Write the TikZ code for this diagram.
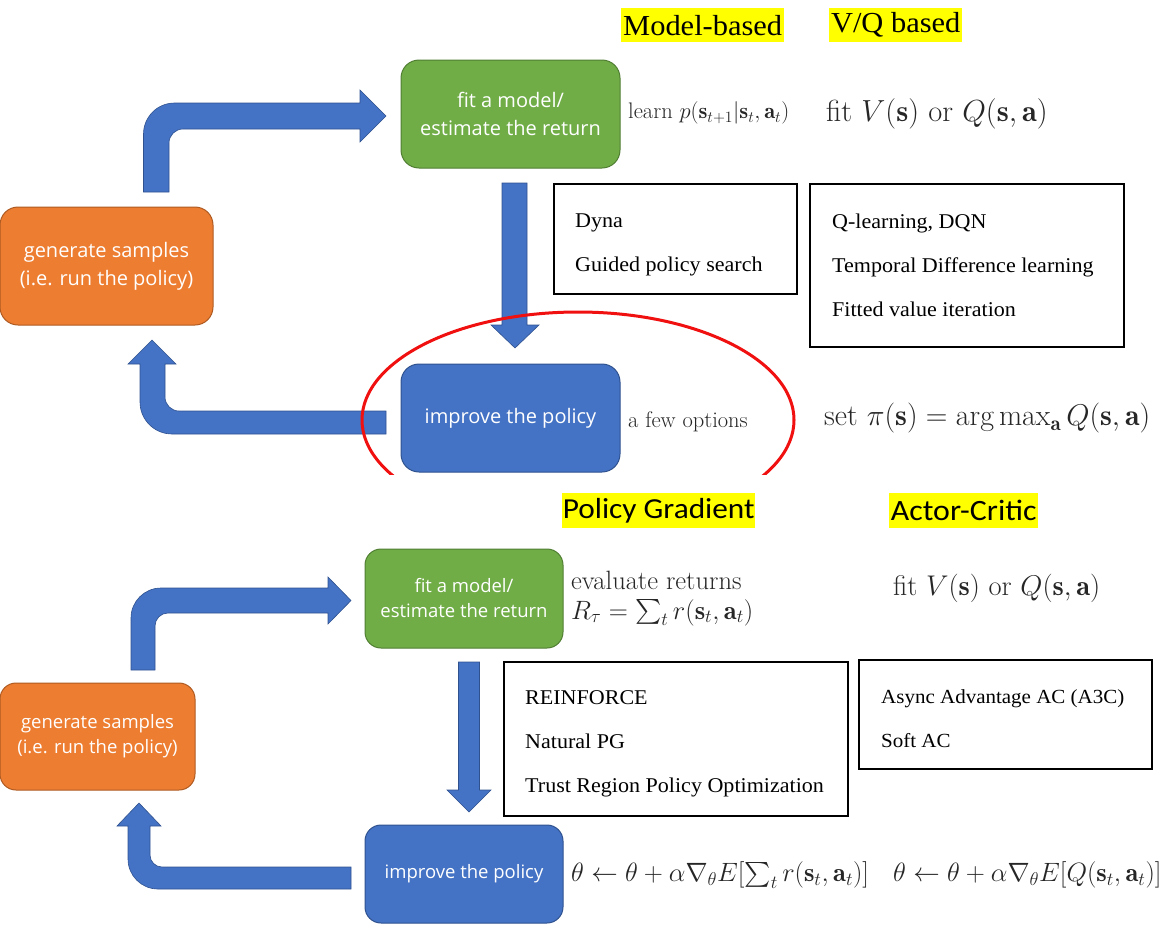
\RequirePackage{fix-cm}
\documentclass[tikz,border=0pt]{standalone}
\usepackage{amsmath}
\usepackage{fontspec}
\newfontfamily\boxfont{Open Sans}
\newfontfamily\serifbox[FakeStretch=1.05]{Liberation Serif}
\newfontfamily\calib[FakeStretch=1.08]{Carlito}
\usetikzlibrary{shapes.geometric}
\definecolor{orangeF}{HTML}{ED7D31}
\definecolor{orangeD}{HTML}{AE5A21}
\definecolor{greenF}{HTML}{70AD47}
\definecolor{greenD}{HTML}{507E32}
\definecolor{blueF}{HTML}{4472C4}
\definecolor{blueD}{HTML}{2F528F}
\definecolor{hl}{HTML}{FFFF00}
\definecolor{redE}{HTML}{F01010}
\tikzset{
 proc/.style={rounded corners=18pt, line width=1pt, text=white, align=center, inner sep=0pt, font=\boxfont\fontsize{20}{28}\selectfont},
 procs/.style={proc, rounded corners=16pt, font=\boxfont\fontsize{18.5}{25}\selectfont},
 listbox/.style={draw=black, line width=2pt, inner sep=0pt},
 listtxt/.style={anchor=base west, inner sep=0pt, font=\serifbox\fontsize{21}{25}\selectfont},
 hlab/.style={fill=hl, inner sep=0pt, anchor=north west},
 mtxt/.style={anchor=west, inner sep=0pt, text=black!85, align=left},
 barrow/.style={fill=blueF, draw=blueD, line width=0.6pt}
}
\begin{document}
\begin{tikzpicture}[x=1pt,y=-1pt]
\useasboundingbox (0,0) rectangle (1174,932);
% ---------- top section arrows ----------
\path[barrow] (143.5,192) -- (143.5,134) .. controls (143.5,117.4) and (156.9,103) .. (174.5,103)
  -- (360,103) -- (360,90) -- (386,116) -- (360,142) -- (360,129) -- (183,129)
  .. controls (175.3,129) and (169,135.3) .. (169,143) -- (169,192) -- cycle;
\path[barrow] (502,183) -- (527,183) -- (527,325) -- (539,325) -- (515,348) -- (491,325) -- (502,325) -- cycle;
\path[barrow] (386,411) -- (179,411) .. controls (171.3,411) and (165,404.7) .. (165,397)
  -- (165,364) -- (176,364) -- (152,340) -- (128,364) -- (140,364) -- (140,402)
  .. controls (140,419.7) and (154.3,434) .. (172,434) -- (386,434) -- cycle;
% ---------- bottom section arrows ----------
\path[barrow] (131,670) -- (131,618) .. controls (131,601.4) and (144.4,588) .. (161,588)
  -- (328,588) -- (328,577) -- (351,600.5) -- (328,624) -- (328,613) -- (168,613)
  .. controls (160.8,613) and (155,618.8) .. (155,626) -- (155,670) -- cycle;
\path[barrow] (458.5,662) -- (479.5,662) -- (479.5,790) -- (491,790) -- (469,812) -- (447,790) -- (458.5,790) -- cycle;
\path[barrow] (351,867) -- (162,867) .. controls (155.4,867) and (150,861.6) .. (150,855)
  -- (150,826) -- (161,826) -- (139,803) -- (117,826) -- (128,826) -- (128,859)
  .. controls (128,875.6) and (141.4,889) .. (158,889) -- (351,889) -- cycle;
% ---------- process boxes ----------
\node[proc, fill=orangeF, draw=orangeD, minimum width=213pt, minimum height=118pt] (gen1) at (106.5,266) {generate samples\\(i.e. run the policy)};
\node[proc, fill=greenF, draw=greenD, minimum width=219pt, minimum height=108pt] (fit1) at (510.5,114) {fit a model/\\estimate the return};
\node[proc, fill=blueF, draw=blueD, minimum width=219pt, minimum height=108pt] (imp1) at (510.5,418) {improve the policy};
\node[procs, fill=orangeF, draw=orangeD, minimum width=195pt, minimum height=107pt] (gen2) at (97.5,736.5) {generate samples\\(i.e. run the policy)};
\node[procs, fill=greenF, draw=greenD, minimum width=198pt, minimum height=99pt] (fit2) at (464,598.5) {fit a model/\\estimate the return};
\node[procs, fill=blueF, draw=blueD, minimum width=198pt, minimum height=98pt] (imp2) at (464,874) {improve the policy};
% ---------- highlighted headings ----------
\node[hlab, minimum width=163pt, minimum height=34pt, font=\serifbox\fontsize{29}{30}\selectfont] (hmb) at (621,8) {Model-based};
\node[hlab, minimum width=133pt, minimum height=34pt, font=\serifbox\fontsize{29}{30}\selectfont] (hvq) at (829,8) {V/Q based};
\node[hlab, minimum width=193pt, minimum height=35pt, font=\calib\fontsize{29}{31}\selectfont] (hpg) at (562,493) {Policy Gradient};
\node[hlab, minimum width=149pt, minimum height=35pt, font=\calib\fontsize{29.5}{31}\selectfont] (hac) at (889,493) {Actor-Critic};
% ---------- list boxes ----------
\node[listbox, minimum width=243pt, minimum height=110pt] (lmb) at (675.5,239) {};
\node[listtxt] (lmb1) at (575,227) {Dyna};
\node[listtxt] (lmb2) at (575,271) {Guided policy search};
\node[listbox, minimum width=314pt, minimum height=163pt] (lvq) at (967,265.5) {};
\node[listtxt] (lvq1) at (832,228) {Q-learning, DQN};
\node[listtxt] (lvq2) at (832,272) {Temporal Difference learning};
\node[listtxt] (lvq3) at (832,316) {Fitted value iteration};
\node[listbox, minimum width=344pt, minimum height=154pt] (lpg) at (676,739) {};
\node[listtxt] (lpg1) at (525,704) {REINFORCE};
\node[listtxt] (lpg2) at (525,748) {Natural PG};
\node[listtxt] (lpg3) at (525,792) {Trust Region Policy Optimization};
\node[listbox, minimum width=293pt, minimum height=109pt] (lac) at (1005.5,714.5) {};
\node[listtxt, font=\serifbox\fontsize{20}{25}\selectfont] (lac1) at (881,703) {Async Advantage AC (A3C)};
\node[listtxt, font=\serifbox\fontsize{20}{25}\selectfont] (lac2) at (881,747) {Soft AC};
% ---------- math annotations ----------
\node[mtxt, font=\fontsize{22.5}{25}\selectfont] (m1) at (628,113) {learn $p(\mathbf{s}_{t+1}|\mathbf{s}_t,\mathbf{a}_t)$};
\node[mtxt, font=\fontsize{30.5}{33}\selectfont] (m2) at (826,114) {fit $V(\mathbf{s})$ or $Q(\mathbf{s},\mathbf{a})$};
\node[mtxt, font=\fontsize{22.5}{26}\selectfont] (m3) at (628,422) {a few options};
\node[mtxt, font=\fontsize{30}{33}\selectfont] (m4) at (824,418) {set $\pi(\mathbf{s})=\arg\max_{\mathbf{a}}Q(\mathbf{s},\mathbf{a})$};
\node[mtxt, anchor=base west, font=\fontsize{26.5}{29}\selectfont] (m5a) at (571,589) {evaluate returns};
\node[mtxt, anchor=base west, font=\fontsize{26.5}{29}\selectfont] (m5b) at (571,619) {$R_\tau=\sum_t r(\mathbf{s}_t,\mathbf{a}_t)$};
\node[mtxt, font=\fontsize{28.5}{31}\selectfont] (m6) at (893,588) {fit $V(\mathbf{s})$ or $Q(\mathbf{s},\mathbf{a})$};
\node[mtxt, font=\fontsize{26.5}{29}\selectfont] (m7) at (571,875) {$\theta\leftarrow\theta+\alpha\nabla_\theta E[\sum_t r(\mathbf{s}_t,\mathbf{a}_t)]$};
\node[mtxt, font=\fontsize{26.5}{29}\selectfont] (m8) at (893,875) {$\theta\leftarrow\theta+\alpha\nabla_\theta E[Q(\mathbf{s}_t,\mathbf{a}_t)]$};
% ---------- red ellipse (cut off at the bottom) ----------
\begin{scope}
\clip (300,290) rectangle (900,474);
\node[draw=redE, line width=3pt, ellipse, inner sep=0pt, minimum width=432pt, minimum height=216pt] (focus) at (578,420) {};
\end{scope}
\end{tikzpicture}
\end{document}
